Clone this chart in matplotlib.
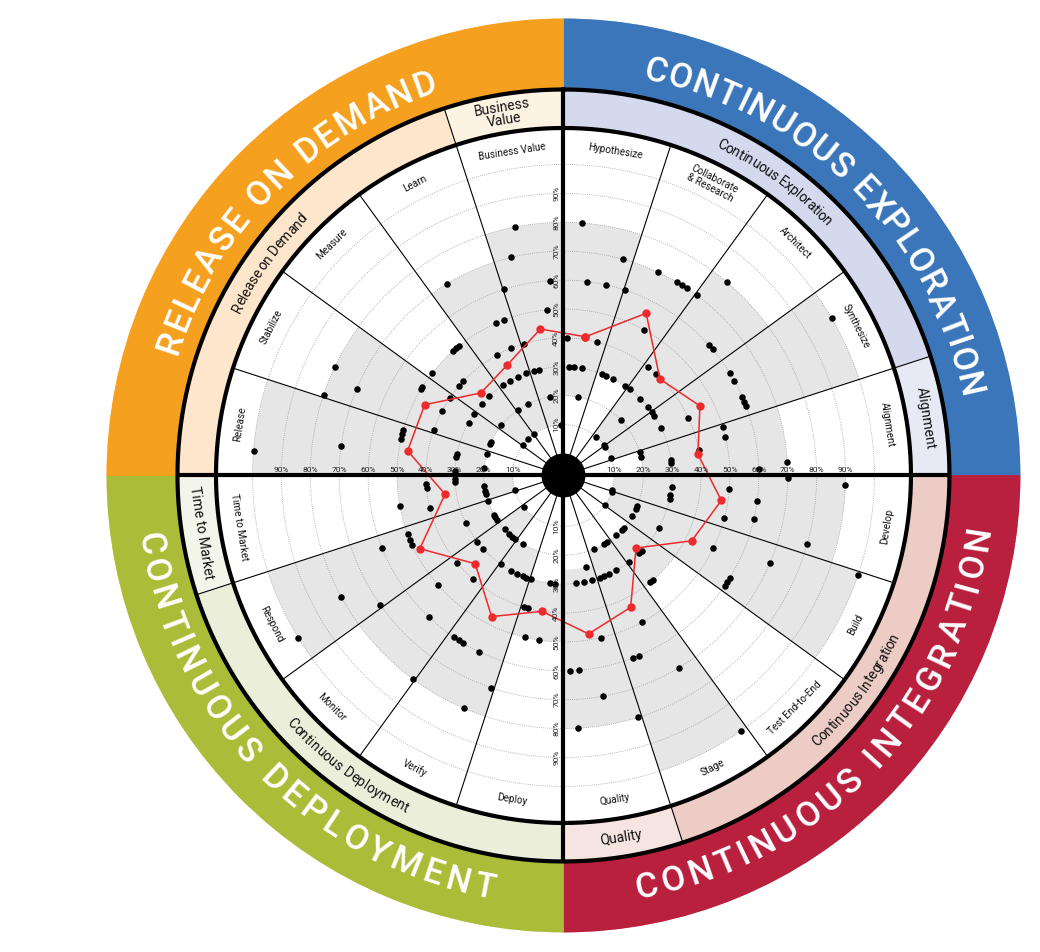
import numpy as np
import matplotlib
matplotlib.use("Agg")
import matplotlib.pyplot as plt
from matplotlib.font_manager import FontProperties

plt.rcParams['font.family'] = ['Roboto', 'DejaVu Sans']

# ---------------- data ----------------
categories = ["Hypothesize", "Collaborate\n& Research", "Architect", "Synthesize", "Alignment",
              "Develop", "Build", "Test End-to-End", "Stage", "Quality",
              "Deploy", "Verify", "Monitor", "Respond", "Time to Market",
              "Release", "Stabilize", "Measure", "Learn", "Business Value"]

# average (red line), percent
average = [41, 55.4, 39.6, 45.4, 39.5, 47.7, 42.2, 27.9, 43.6, 47.9,
           40, 47.2, 35.6, 48.2, 33.9, 47, 46.3, 32.8, 35.3, 43.7]

# individual answers (percent) and their angular slot inside the wedge (deg)
hypothesize_val = [40, 30, 80, 30, 60, 30, 20, 60, 40, 70]
hypothesize_pos = [1.3, 2.8, 4.2, 5.4, 7.0, 9.6, 10.6, 12.6, 13.9, 15.4]
collaborate_val = [60, 30, 30, 70, 30, 50, 70, 70, 70, 30]
collaborate_pos = [0.3, 2.7, 5.2, 6.9, 9.2, 11.0, 12.5, 13.9, 15.5, 16.3]
architect_val = [70, 30, 40, 10, 80, 40, 30, 20, 60, 60, 30, 10]
architect_pos = [0.5, 1.5, 2.1, 4.0, 4.2, 6.3, 9.0, 10.2, 12.2, 13.8, 15.0, 16.5]
synthesize_val = [30, 10, 30, 60, 100, 60, 30, 40, 60, 60, 60, 10]
synthesize_pos = [0.5, 1.7, 2.6, 4.3, 5.6, 7.0, 9.8, 11.1, 12.4, 13.8, 15.2, 15.6]
alignment_val = [50, 20, 20, 50, 40, 30, 30, 70, 60]
alignment_pos = [0.9, 1.2, 4.4, 4.5, 7.2, 10.0, 11.2, 14.5, 16.2]
develop_val = [70, 90, 50, 30, 60, 30, 30, 60, 50, 80, 10]
develop_pos = [0.7, 1.9, 4.8, 5.9, 7.5, 10.4, 12.6, 13.0, 14.7, 15.8, 16.9]
build_val = [100, 10, 20, 70, 20, 50, 30, 20, 60, 60, 60, 10]
build_pos = [0.7, 1.0, 4.5, 5.1, 7.2, 8.0, 11.0, 12.7, 13.7, 15.2, 16.3, 17.4]
test_val = [20, 20, 30, 30, 20, 40, 40, 30]
test_pos = [5.0, 7.0, 7.8, 9.8, 12.4, 13.6, 15.0, 17.0]
stage_val = [100, 20, 20, 70, 30, 50, 30, 20, 60, 30, 60, 30]
stage_pos = [1.1, 2.9, 5.1, 5.1, 6.8, 7.9, 11.3, 13.3, 13.4, 14.3, 15.0, 16.6]
quality_val = [80, 30, 25, 50, 30, 70, 30, 60, 80, 60]
quality_pos = [0.9, 2.7, 4.4, 5.1, 6.9, 7.9, 11.3, 13.5, 14.7, 16.2]
deploy_val = [30, 30, 50, 50, 40, 40, 30]
deploy_pos = [4.6, 7.3, 8.4, 13.3, 14.8, 16.6, 17.4]
verify_val = [70, 30, 30, 80, 30, 60, 30, 20, 60, 60, 60, 30]
verify_pos = [0.9, 1.9, 3.8, 5.1, 7.3, 7.7, 11.0, 12.2, 12.8, 14.5, 16.0, 17.3]
monitor_val = [80, 20, 20, 40, 20, 60, 20, 30, 50, 40, 10, 30]
monitor_pos = [0.6, 1.5, 3.9, 4.9, 6.8, 7.6, 11.5, 11.5, 13.0, 14.7, 15.5, 16.4]
respond_val = [70, 20, 20, 100, 20, 80, 30, 50, 50, 60, 50, 20]
respond_pos = [0.7, 2.2, 4.5, 4.5, 6.7, 7.3, 10.3, 11.2, 13.1, 14.1, 15.5, 17.1]
ttm_val = [10, 40, 20, 20, 50, 20, 40, 40, 30, 30]
ttm_pos = [1.7, 4.3, 4.5, 7.0, 7.5, 10.1, 12.7, 14.4, 14.5, 16.2]
release_val = [30, 100, 20, 70, 30, 30, 50, 50, 50, 20]
release_pos = [2.5, 4.6, 5.1, 7.5, 9.9, 11.6, 12.8, 14.3, 15.8, 15.9]
stabilize_val = [80, 40, 70, 20, 20, 80, 40, 30, 50, 50, 40, 30]
stabilize_pos = [0.6, 1.5, 4.8, 5.2, 7.1, 7.4, 10.0, 11.1, 13.2, 14.1, 16.2, 16.4]
measure_val = [10, 50, 20, 40, 30, 40, 10, 30, 50, 50, 50]
measure_pos = [0.8, 1.9, 2.9, 4.7, 5.4, 7.2, 9.8, 11.0, 12.6, 13.9, 15.0]
learn_val = [10, 20, 30, 70, 30, 40, 20, 30, 50, 40, 50, 30]
learn_pos = [0.3, 1.3, 2.3, 4.7, 6.8, 7.0, 9.2, 11.1, 12.2, 13.8, 15.1, 16.0]
bvalue_val = [60, 40, 30, 70, 30, 80, 20, 50, 60, 10]
bvalue_pos = [0.2, 1.4, 2.0, 4.5, 5.0, 7.0, 8.4, 12.4, 14.0, 14.8]

dot_values = [hypothesize_val, collaborate_val, architect_val, synthesize_val, alignment_val,
              develop_val, build_val, test_val, stage_val, quality_val,
              deploy_val, verify_val, monitor_val, respond_val, ttm_val,
              release_val, stabilize_val, measure_val, learn_val, bvalue_val]
dot_slots = [hypothesize_pos, collaborate_pos, architect_pos, synthesize_pos, alignment_pos,
             develop_pos, build_pos, test_pos, stage_pos, quality_pos,
             deploy_pos, verify_pos, monitor_pos, respond_pos, ttm_pos,
             release_pos, stabilize_pos, measure_pos, learn_pos, bvalue_pos]

stage_names = ["CONTINUOUS EXPLORATION", "CONTINUOUS INTEGRATION",
               "CONTINUOUS DEPLOYMENT", "RELEASE ON DEMAND"]
stage_colors = ['#3b76ba', '#b9203e', '#abbd38', '#f5a01e']

sub_names = ["Continuous Exploration", "Alignment", "Continuous Integration", "Quality",
             "Continuous Deployment", "Time to Market", "Release on Demand", "Business\nValue"]
sub_start = [0, 72, 90, 162, 180, 252, 270, 342]
sub_end = [72, 90, 162, 180, 252, 270, 342, 360]
sub_colors = ['#d4d9ee', '#e7e9f5', '#ecccc4', '#f6e4e1',
              '#ebeed9', '#f3f5ea', '#fde6cb', '#fdf3e2']

pct_ticks = [10, 20, 30, 40, 50, 60, 70, 80, 90]
grid_levels = [10, 20, 30, 40, 50, 60, 70, 80, 90, 100]

# ---------------- geometry ----------------
PX_PER = 2.89      # pixels per percent
R_C = -7.6         # data radius at the very centre


def rp(px):
    return px / PX_PER + R_C


R_IN = rp(347.5)
R_MID = rp(386)
R_OUT = rp(457)
W = 18.0

fig = plt.figure(figsize=(10.4, 9.52), dpi=100)
ax = fig.add_axes([0.1024, 0.0205, 0.8788, 0.9601], projection='polar')
ax.set_theta_zero_location('N')
ax.set_theta_direction(-1)
ax.set_ylim(R_C, R_OUT)
ax.axis('off')
D = np.deg2rad

# outer coloured ring
for k, col in enumerate(stage_colors):
    ax.bar(D(45 + 90 * k), R_OUT - R_MID, width=D(90), bottom=R_MID,
           color=col, edgecolor=col, linewidth=0.6, zorder=1)
# middle light ring
for s0, s1, col in zip(sub_start, sub_end, sub_colors):
    ax.bar(D((s0 + s1) / 2), R_MID - R_IN, width=D(s1 - s0), bottom=R_IN,
           color=col, edgecolor=col, linewidth=0.6, zorder=1)

# gray range wedges
for i, vals in enumerate(dot_values):
    lo, hi = min(vals), max(vals)
    ax.bar(D(W * i + W / 2), hi - lo, width=D(W), bottom=lo,
           color='#e6e6e6', linewidth=0, zorder=2)

# dotted grid circles
th = np.linspace(0, 2 * np.pi, 1441)
for g in grid_levels:
    ax.plot(th, np.full_like(th, g), color='#8e8e8e', lw=0.55,
            ls=(0, (1.0, 1.8)), zorder=3)

# spokes
for k in range(20):
    a = W * k
    if a % 90 == 0:
        ax.plot([D(a), D(a)], [R_C, R_MID], color='k', lw=3.0, zorder=7,
                solid_capstyle='butt')
    else:
        top = R_MID if a in (72, 162, 252, 342) else R_IN
        ax.plot([D(a), D(a)], [R_C, top], color='k', lw=0.8, zorder=4)

# thick circles
for rr in (R_IN, R_MID):
    ax.plot(th, np.full_like(th, rr), color='k', lw=3.0, zorder=7)

# individual dots
for i, (vals, slots) in enumerate(zip(dot_values, dot_slots)):
    ang = [D(W * i + s) for s in slots]
    ax.scatter(ang, vals, s=22, c='k', linewidths=0, zorder=5)

# average line
centers = [D(W * i + W / 2) for i in range(len(categories))]
ax.plot(centers + centers[:1], average + average[:1], color='#ee2a2e', lw=1.1,
        marker='o', ms=5.0, mec='#ee2a2e', zorder=6)

# centre disc
ax.bar(0, 0 - R_C, width=2 * np.pi, bottom=R_C, color='k', linewidth=0, zorder=8)

# percentage labels
for v in pct_ticks:
    for a in (90, 270):
        ax.annotate(f"{v}%", xy=(D(a), v), xytext=(0, 1.6), textcoords='offset points',
                    ha='center', va='bottom', fontsize=6, color='#222222', zorder=9)
    for a in (0, 180):
        ax.annotate(f"{v}%", xy=(D(a), v), xytext=(-3.0, 0), textcoords='offset points',
                    ha='right', va='center', rotation=90, fontsize=6, color='#222222',
                    zorder=9)


def tang_rot(c):
    c = c % 360
    return -c if (c < 90 or c > 270) else 180 - c


# category labels
for i, name in enumerate(categories):
    c = W * i + W / 2
    ax.text(D(c), rp(328), name, rotation=tang_rot(c), rotation_mode='anchor',
            ha='center', va='center', fontsize=7.2, color='#111111',
            linespacing=0.95, zorder=9)

# straight sub labels
straight = {"Alignment": 81, "Quality": 171, "Time to Market": 261, "Business\nValue": 350.5}
for name, c in straight.items():
    ax.text(D(c), rp(367), name, rotation=tang_rot(c), rotation_mode='anchor',
            ha='center', va='center', fontsize=10, color='#111111',
            linespacing=0.9, zorder=9)

renderer = fig.canvas.get_renderer()


def text_w(s, fp):
    return renderer.get_text_width_height_descent(s, fp, ismath=False)[0]


def arc_text(s, center_deg, r_center_px, cap_px, fp, color, outward, span_deg):
    n = len(s)
    cs = []
    for i in range(n):
        right = text_w(s[:i + 1], fp)
        cw = text_w(s[i], fp) if s[i] != ' ' else 0.0
        cs.append(right - cw / 2)
    cs = np.array(cs)
    pos = cs - (cs[0] + cs[-1]) / 2
    target = np.deg2rad(span_deg) * r_center_px
    track = (target - (pos[-1] - pos[0])) / (n - 1)
    pos = pos + track * (np.arange(n) - (n - 1) / 2)
    r_base = r_center_px - cap_px / 2 if outward else r_center_px + cap_px / 2
    for i, ch in enumerate(s):
        if ch == ' ':
            continue
        d = np.rad2deg(pos[i] / r_center_px)
        a = center_deg + d if outward else center_deg - d
        rot = -a if outward else 180 - a
        ax.text(D(a), rp(r_base), ch, rotation=rot, rotation_mode='anchor',
                ha='center', va='baseline', fontproperties=fp, color=color, zorder=9)


big = FontProperties(family=['Roboto', 'DejaVu Sans'], weight='medium', size=25)
arc_text(stage_names[0], 45.1, 417, 25, big, 'white', True, 64.5)
arc_text(stage_names[1], 133.6, 417, 25, big, 'white', False, 70.0)
arc_text(stage_names[2], 225.8, 417, 25, big, 'white', False, 69.8)
arc_text(stage_names[3], 314.6, 417, 25, big, 'white', True, 51.7)

mid = FontProperties(family=['Roboto', 'DejaVu Sans'], size=10)
arc_text(sub_names[0], 35.8, 367, 10, mid, '#111111', True, 20.4)
arc_text(sub_names[2], 126.2, 367, 10, mid, '#111111', False, 20.2)
arc_text(sub_names[4], 216.5, 367, 10, mid, '#111111', False, 22.2)
arc_text(sub_names[6], 305.9, 367, 10, mid, '#111111', True, 17.3)

fig.savefig('out.png', dpi=100, facecolor='white')
